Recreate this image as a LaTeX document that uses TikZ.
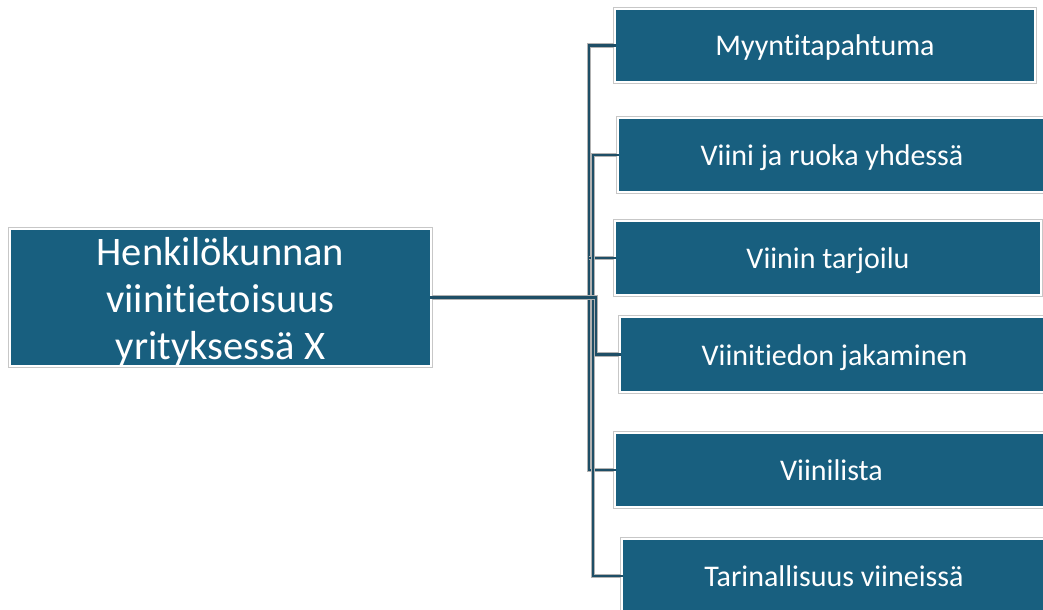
\documentclass[tikz,border=0pt]{standalone}
\usepackage{fontspec}
\setmainfont[RawFeature=-liga]{Carlito}
\definecolor{boxblue}{RGB}{24,95,127}
\definecolor{linedark}{RGB}{30,78,102}
\tikzset{
  box/.style={fill=boxblue, draw=white, line width=0.9pt,
    preaction={draw=black!22, line width=2.6pt},
    text=white, inner sep=0pt, align=center},
  leaf/.style={box, font=\fontsize{22.5}{27}\selectfont,
    text height=18pt, text depth=2.25pt},
  maintext/.style={text=white, inner sep=0pt, align=center,
    font=\fontsize{30.4}{35.2}\selectfont},
  conn/.style={draw=linedark, line width=2.1pt, line cap=rect,
    preaction={draw=black!30, line width=3.2pt}}
}
\begin{document}
\begin{tikzpicture}[x=0.75pt, y=-0.75pt]
\useasboundingbox (0,0) rectangle (1043,610);
\fill[white] (0,0) rectangle (1043,610);
% main box
\node[box, minimum width=421*0.75pt, minimum height=137*0.75pt] (main) at (220.5,297.5) {};
\node[maintext] (mainlabel) at ([yshift=-3pt]main.center)
  {Henkilökunnan\\viinitietoisuus\\yrityksessä X};
% leaf boxes
\node[leaf, minimum width=420*0.75pt, minimum height=73*0.75pt] (b1) at (825,45.5) {Myyntitapahtuma};
\node[leaf, minimum width=428*0.75pt, minimum height=74*0.75pt] (b2) at (832,155) {Viini ja ruoka yhdessä};
\node[leaf, minimum width=426*0.75pt, minimum height=74*0.75pt] (b3) at (828,258) {Viinin tarjoilu};
\node[leaf, minimum width=429*0.75pt, minimum height=75*0.75pt] (b4) at (834.5,354.5) {Viinitiedon jakaminen};
\node[leaf, minimum width=433*0.75pt, minimum height=74*0.75pt] (b5) at (831.5,470) {Viinilista};
\node[leaf, minimum width=424*0.75pt, minimum height=74*0.75pt] (b6) at (834,576) {Tarinallisuus viineissä};
% junction columns
\coordinate (ja) at (589,0);
\coordinate (jb) at (593,0);
\coordinate (jc) at (596,0);
% connectors
\draw[conn] (b1.west) -- (b1.west -| ja) -- (b5.west -| ja) -- (b5.west);
\draw[conn] (b3.west) -- (b3.west -| ja);
\draw[conn] (b2.west) -- (b2.west -| jb) -- (b6.west -| jb) -- (b6.west);
\draw[conn] (main.east) -- (main.east -| jc) -- (b4.west -| jc) -- (b4.west);
\end{tikzpicture}
\end{document}
